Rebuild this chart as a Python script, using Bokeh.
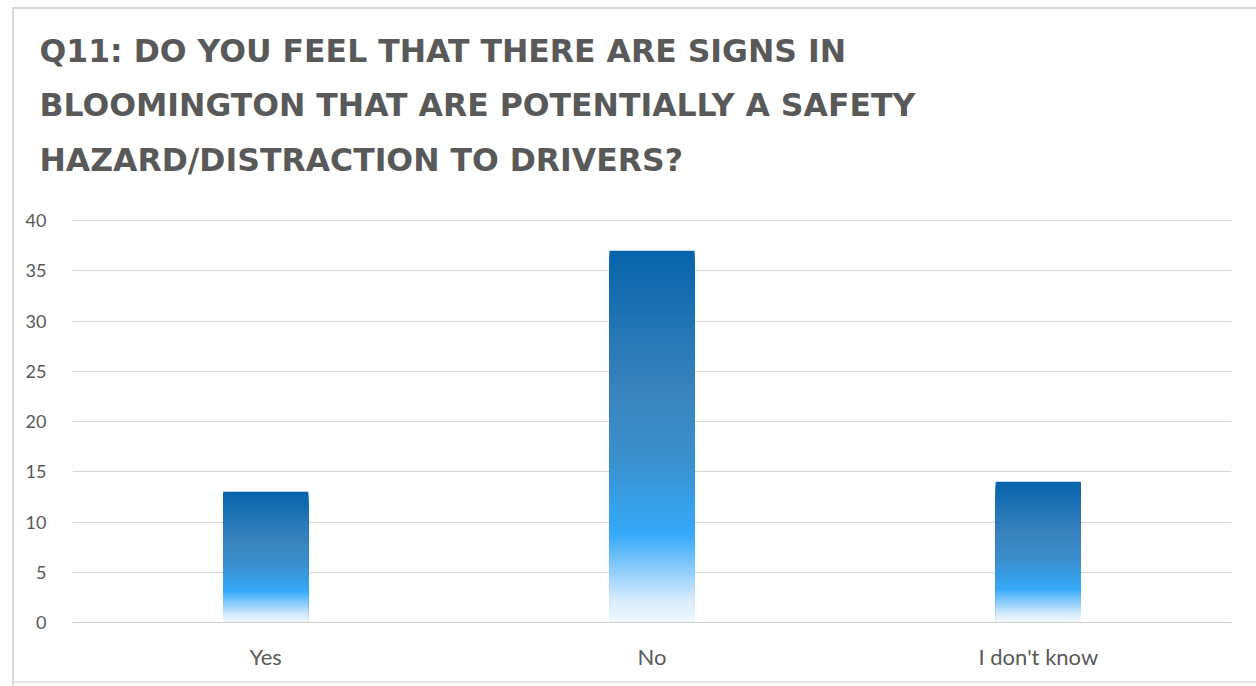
from bokeh.plotting import figure
from bokeh.layouts import column
from bokeh.models import Range1d, FactorRange, Label, FixedTicker, ColumnDataSource
from bokeh.embed import file_html
from bokeh.resources import INLINE

# ---- data ----
categories = ["Yes", "No", "I don't know"]
responses = [13, 37, 14]
y_ticks = [0, 5, 10, 15, 20, 25, 30, 35, 40]
title_lines = [
    "Q11: DO YOU FEEL THAT THERE ARE SIGNS IN",
    "BLOOMINGTON THAT ARE POTENTIALLY A SAFETY",
    "HAZARD/DISTRACTION TO DRIVERS?",
]

# ---- gradient (fraction of bar height from bottom -> colour) ----
stops = [(0.0, (242, 248, 254)), (0.06, (214, 235, 253)), (0.24, (53, 169, 249)),
         (0.45, (58, 143, 204)), (0.62, (58, 132, 190)), (1.0, (7, 100, 171))]


def grad(f):
    for (f0, c0), (f1, c1) in zip(stops[:-1], stops[1:]):
        if f <= f1:
            t = (f - f0) / (f1 - f0)
            return "#%02x%02x%02x" % tuple(int(round(a + (b - a) * t)) for a, b in zip(c0, c1))
    return "#%02x%02x%02x" % stops[-1][1]


# nested slices: each from 0 up to a fraction of the bar, drawn tallest first
N = 150
xs, tops, cols = [], [], []
for i in range(N, 0, -1):
    for cat, val in zip(categories, responses):
        xs.append(cat)
        tops.append(val * i / N)
        cols.append(grad((i - 0.5) / N))
src = ColumnDataSource(dict(x=xs, t=tops, c=cols))

W, H = 1256, 686
TITLE_H = 190
FRAME_L, FRAME_TOP, FRAME_B = 72, 220, 622   # in page pixels

# ---- title strip ----
t = figure(width=W, height=TITLE_H, output_backend="svg", toolbar_location=None,
           x_axis_type=None, y_axis_type=None, x_range=Range1d(0, 1), y_range=Range1d(0, 1),
           min_border=0)
t.frame_align = False
t.border_fill_alpha = 0
t.background_fill_alpha = 0
t.outline_line_color = None
t.xgrid.grid_line_color = None
t.ygrid.grid_line_color = None
baselines = [50, 104, 159]
for line, yb in zip(title_lines, baselines):
    t.add_layout(Label(x=39, y=TITLE_H - yb, x_units="screen", y_units="screen",
                       text=line, text_font="DejaVu Sans", text_font_style="bold",
                       text_font_size="31.5px", text_color="#595959",
                       text_baseline="alphabetic"))

# ---- chart ----
CH = H - TITLE_H
p = figure(width=W, height=CH, output_backend="svg", toolbar_location=None,
           x_range=FactorRange(*categories, range_padding=0), y_range=Range1d(0, 40),
           min_border_left=FRAME_L, min_border_right=25, min_border_top=FRAME_TOP - TITLE_H - 1,
           min_border_bottom=H - FRAME_B)
p.frame_align = False
p.y_range.end = 40 * (FRAME_B - FRAME_TOP + 1) / (FRAME_B - FRAME_TOP)
p.border_fill_alpha = 0
p.background_fill_alpha = 0
p.outline_line_color = None

p.vbar(x="x", bottom=0, top="t", width=0.22, fill_color="c", line_color=None, source=src)

p.xgrid.grid_line_color = None
p.ygrid.grid_line_color = "#d6d6d6"
p.ygrid.grid_line_width = 1

p.yaxis.ticker = FixedTicker(ticks=y_ticks)
p.yaxis.axis_line_color = None
p.yaxis.major_tick_line_color = None
p.yaxis.minor_tick_line_color = None
p.yaxis.major_label_standoff = 20
p.yaxis.major_label_text_font = "Lato"
p.yaxis.major_label_text_font_size = "18px"
p.yaxis.major_label_text_color = "#595959"

p.xaxis.axis_line_color = "#cfcfcf"
p.xaxis.major_tick_line_color = None
p.xaxis.minor_tick_line_color = None
p.xaxis.major_label_standoff = 14
p.xaxis.major_label_text_font = "Lato"
p.xaxis.major_label_text_font_size = "22px"
p.xaxis.major_label_text_color = "#595959"

layout = column(t, p, spacing=0)
layout.styles = {
    "background": ("linear-gradient(#d9d9d9,#d9d9d9) 12px 7px / 2px 100% no-repeat, "
                   "linear-gradient(#d9d9d9,#d9d9d9) 12px 7px / 100% 2px no-repeat, "
                   "linear-gradient(#e6e6e6,#e6e6e6) 12px 681px / 100% 2px no-repeat, white")
}

open("out.html", "w").write(file_html(layout, INLINE))
